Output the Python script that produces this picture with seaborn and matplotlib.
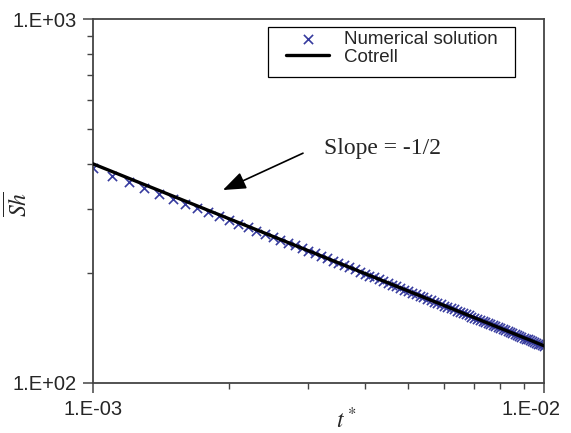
import numpy as np
import pandas as pd
import matplotlib
matplotlib.use("Agg")
import matplotlib.pyplot as plt
import matplotlib.transforms as mtransforms
from matplotlib.patches import Rectangle
import seaborn as sns
from matplotlib.ticker import FuncFormatter, LogLocator, NullFormatter

# dimensionless time t*
t_star = [0.0010, 0.0011, 0.0012, 0.0013, 0.0014, 0.0015, 0.0016, 0.0017, 0.0018, 0.0019,
          0.0020, 0.0021, 0.0022, 0.0023, 0.0024, 0.0025, 0.0026, 0.0027, 0.0028, 0.0029,
          0.0030, 0.0031, 0.0032, 0.0033, 0.0034, 0.0035, 0.0036, 0.0037, 0.0038, 0.0039,
          0.0040, 0.0041, 0.0042, 0.0043, 0.0044, 0.0045, 0.0046, 0.0047, 0.0048, 0.0049,
          0.0050, 0.0051, 0.0052, 0.0053, 0.0054, 0.0055, 0.0056, 0.0057, 0.0058, 0.0059,
          0.0060, 0.0061, 0.0062, 0.0063, 0.0064, 0.0065, 0.0066, 0.0067, 0.0068, 0.0069,
          0.0070, 0.0071, 0.0072, 0.0073, 0.0074, 0.0075, 0.0076, 0.0077, 0.0078, 0.0079,
          0.0080, 0.0081, 0.0082, 0.0083, 0.0084, 0.0085, 0.0086, 0.0087, 0.0088, 0.0089,
          0.0090, 0.0091, 0.0092, 0.0093, 0.0094, 0.0095, 0.0096, 0.0097, 0.0098, 0.0099,
          0.0100]

# numerical solution (x markers)
sh_numerical = [388.8, 371.5, 356.3, 343.1, 331.3, 320.7, 311.1, 302.5, 294.5, 287.3,
                280.3, 273.8, 267.8, 262.2, 256.9, 252.0, 247.4, 242.9, 238.8, 234.7,
                230.8, 227.1, 223.5, 220.1, 216.8, 213.7, 210.7, 207.9, 205.1, 202.4,
                199.9, 197.4, 195.1, 192.8, 190.6, 188.5, 186.4, 184.4, 182.5, 180.6,
                178.8, 177.0, 175.3, 173.7, 172.0, 170.5, 168.9, 167.4, 166.0, 164.6,
                163.2, 161.9, 160.5, 159.3, 158.0, 156.8, 155.6, 154.4, 153.3, 152.2,
                151.1, 150.0, 149.0, 147.9, 146.9, 146.0, 145.0, 144.0, 143.1, 142.2,
                141.3, 140.4, 139.6, 138.7, 137.9, 137.1, 136.3, 135.5, 134.7, 134.0,
                133.2, 132.5, 131.8, 131.1, 130.4, 129.7, 129.0, 128.3, 127.7, 127.0,
                126.4]

# Cotrell solution (black line)
sh_cotrell = [400.0, 381.4, 365.1, 350.8, 338.1, 326.6, 316.2, 306.8, 298.1, 290.2,
              282.8, 276.0, 269.7, 263.8, 258.2, 253.0, 248.1, 243.4, 239.0, 234.9,
              230.9, 227.2, 223.6, 220.2, 216.9, 213.8, 210.8, 208.0, 205.2, 202.5,
              200.0, 197.5, 195.2, 192.9, 190.7, 188.6, 186.5, 184.5, 182.6, 180.7,
              178.9, 177.1, 175.4, 173.8, 172.1, 170.6, 169.0, 167.5, 166.1, 164.7,
              163.3, 162.0, 160.6, 159.4, 158.1, 156.9, 155.7, 154.5, 153.4, 152.3,
              151.2, 150.1, 149.1, 148.0, 147.0, 146.1, 145.1, 144.1, 143.2, 142.3,
              141.4, 140.5, 139.7, 138.8, 138.0, 137.2, 136.4, 135.6, 134.8, 134.1,
              133.3, 132.6, 131.9, 131.2, 130.5, 129.8, 129.1, 128.4, 127.8, 127.1,
              126.5]

x_ticks = [1e-3, 1e-2]
y_ticks = [1e2, 1e3]

df = pd.DataFrame({"t": t_star, "num": sh_numerical, "cot": sh_cotrell})

sns.set_style("ticks")
plt.rcParams["font.family"] = ["Liberation Sans", "DejaVu Sans"]
plt.rcParams["mathtext.fontset"] = "stix"

fig = plt.figure(figsize=(5.71, 4.33), dpi=100)
ax = fig.add_axes([0.163, 0.1155, 0.79, 0.8405])

sns.scatterplot(data=df, x="t", y="num", marker="x", color="#363b9e", s=44,
                linewidth=1.2, label="Numerical solution", ax=ax, zorder=2)
sns.lineplot(data=df, x="t", y="cot", color="black", lw=2.4,
             label="Cotrell", ax=ax, zorder=3)

ax.set_xscale("log")
ax.set_yscale("log")
ax.set_xlim(1e-3, 1e-2)
ax.set_ylim(1e2, 1e3)

fmt = FuncFormatter(lambda v, p: "1.E{:+03d}".format(int(round(np.log10(v)))))
ax.set_xticks(x_ticks)
ax.set_yticks(y_ticks)
for axis in (ax.xaxis, ax.yaxis):
    axis.set_minor_locator(LogLocator(base=10, subs=np.arange(2, 10), numticks=20))
    axis.set_major_formatter(fmt)
    axis.set_minor_formatter(NullFormatter())

ax.tick_params(which="major", direction="out", length=7, width=1.1, color="#444444",
               labelsize=14.5, pad=5)
ax.tick_params(which="minor", direction="out", length=4, width=1.0, color="#444444")
for sp in ax.spines.values():
    sp.set_visible(True)
    sp.set_color("#444444")
    sp.set_linewidth(1.3)

# last x label sits a little left of its tick, as in the original
last = ax.xaxis.get_major_ticks()[-1].label1
shift = mtransforms.ScaledTranslation(-13 / 100, 0, fig.dpi_scale_trans)
last.set_transform(last.get_transform() + shift)

ax.set_xlabel(r"$t^*$", fontsize=17)
ax.set_ylabel(r"$\overline{Sh}$", fontsize=17)
ax.xaxis.set_label_coords(0.56, -0.068)
ax.yaxis.set_label_coords(-0.135, 0.49)

ax.text(3.25e-3, 442, "Slope = -1/2", fontsize=17, family="Liberation Serif",
        va="center", ha="left")
ax.annotate("", xy=(1.94e-3, 339), xytext=(2.92e-3, 428),
            arrowprops=dict(arrowstyle="-|>,head_length=1.0,head_width=0.38",
                            mutation_scale=14, color="black", lw=1.2,
                            shrinkA=0, shrinkB=0))

# legend box drawn separately so its padding can match the original
ax.add_patch(Rectangle((0.388, 0.841), 0.548, 0.137, transform=ax.transAxes,
                       facecolor="white", edgecolor="black", lw=0.9, zorder=4))
leg = ax.legend(loc="upper left", bbox_to_anchor=(0.428, 0.968), fontsize=13.5,
                frameon=False, borderpad=0, handlelength=2.3, handletextpad=0.8,
                labelspacing=0.05, borderaxespad=0)
leg.set_zorder(5)

fig.savefig("out.png", dpi=100)
